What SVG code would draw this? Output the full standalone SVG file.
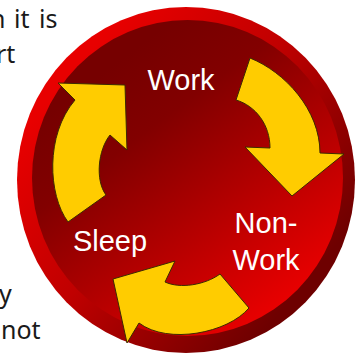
<svg xmlns="http://www.w3.org/2000/svg" width="357" height="354" viewBox="0 0 357 354">
  <defs>
    <linearGradient id="ringGrad" x1="0.15" y1="0.2" x2="0.85" y2="0.8">
      <stop offset="0" stop-color="#e80000"/>
      <stop offset="0.45" stop-color="#c00000"/>
      <stop offset="1" stop-color="#6e0000"/>
    </linearGradient>
    <linearGradient id="discGrad" x1="0.25" y1="0.15" x2="0.8" y2="0.9">
      <stop offset="0" stop-color="#760000"/>
      <stop offset="0.25" stop-color="#820000"/>
      <stop offset="1" stop-color="#e80000"/>
    </linearGradient>
    <style>
      .bodytext { font-family: "Noto Sans", "Open Sans", sans-serif; font-size: 25px; fill: #1a1a1a; }
      .label { font-family: "Liberation Sans", Arial, sans-serif; font-size: 29px; fill: #ffffff; text-anchor: middle; }
      .arrow { fill: #ffcc00; stroke: #3d2a00; stroke-width: 1; stroke-linejoin: miter; }
    </style>
  </defs>

  <rect width="357" height="354" fill="#ffffff"/>

  <!-- slide text running behind the badge -->
  <g id="page-text" class="bodytext">
    <text x="-10" y="28">n</text>
    <text x="14" y="28">it</text>
    <text x="39" y="28">is</text>
    <text x="-4" y="63">rt</text>
    <text x="-1" y="303">y</text>
    <text x="1" y="339">not</text>
  </g>

  <!-- round badge: bevelled rim and inner disc -->
  <g id="badge">
    <ellipse cx="186" cy="180" rx="169" ry="173" fill="url(#ringGrad)"/>
    <ellipse cx="187.5" cy="178" rx="155.5" ry="158" fill="url(#discGrad)"/>
  </g>

  <!-- cycle arrows -->
  <g id="connectors">
    <path id="arrow-work-nonwork" class="arrow"
          d="M236,100 L250,58 C285,72 320,110 320,153 L344,154 L292,196 L245,147 L270,148 C270,125 256,106 236,100 Z"/>
    <path id="arrow-nonwork-sleep" class="arrow"
          d="M220,274 L249,308 C228,333 168,345 139,323 L127,343 L113,279 L175,261 L165,282 C180,289 205,285 220,274 Z"/>
    <path id="arrow-sleep-work" class="arrow"
          d="M68,222 C48,195 45,135 75,100 L58,83 L125,85 L127,150 L110,135 C98,150 95,180 106,195 Z"/>
  </g>

  <g id="node-work">
    <text class="label" x="181" y="90">Work</text>
  </g>
  <g id="node-nonwork">
    <text class="label" x="266" y="233">Non-</text>
    <text class="label" x="266" y="270">Work</text>
  </g>
  <g id="node-sleep">
    <text class="label" x="110" y="251">Sleep</text>
  </g>
</svg>
